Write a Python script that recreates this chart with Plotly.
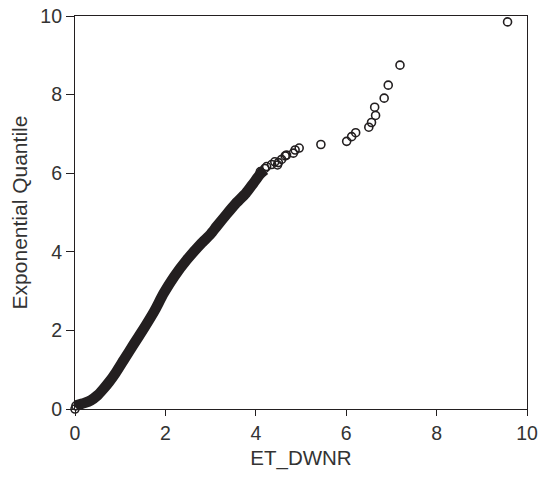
import plotly.graph_objects as go

# Dense body of the exponential Q-Q plot: centreline of the packed points
body_x = [0.00, 0.05, 0.20, 0.35, 0.50, 0.62, 0.75, 0.90, 1.08, 1.30, 1.55, 1.76,
          1.96, 2.20, 2.47, 2.80, 3.00, 3.13, 3.35, 3.55, 3.78, 3.95, 4.10, 4.20]
body_y = [0.05, 0.10, 0.15, 0.22, 0.35, 0.50, 0.68, 0.92, 1.25, 1.65, 2.10, 2.50,
          2.94, 3.38, 3.79, 4.22, 4.45, 4.64, 4.95, 5.22, 5.49, 5.75, 5.98, 6.08]

# Individually visible observations (upper tail and origin)
pts_x = [0.00, 0.02, 4.10, 4.20, 4.24, 4.35, 4.42, 4.48, 4.50, 4.57, 4.65, 4.68,
         4.83, 4.87, 4.96, 5.44, 6.01, 6.12, 6.21, 6.50, 6.56, 6.65, 6.63,
         6.84, 6.93, 7.19, 9.57]
pts_y = [0.00, 0.08, 6.04, 6.12, 6.17, 6.22, 6.29, 6.21, 6.27, 6.35, 6.44, 6.46,
         6.51, 6.59, 6.64, 6.73, 6.81, 6.93, 7.03, 7.17, 7.29, 7.47, 7.68,
         7.91, 8.24, 8.75, 9.85]

x_ticks = [0, 2, 4, 6, 8, 10]
y_ticks = [0, 2, 4, 6, 8, 10]

ink = "#231f20"
font_family = "Liberation Sans, Arial, sans-serif"

fig = go.Figure()
fig.add_trace(go.Scatter(
    x=body_x, y=body_y, mode="lines",
    line=dict(color=ink, width=10.5, shape="spline", smoothing=0.5),
    cliponaxis=False, hoverinfo="skip", showlegend=False,
))
fig.add_trace(go.Scatter(
    x=pts_x, y=pts_y, mode="markers",
    marker=dict(symbol="circle-open", size=8, color=ink, line=dict(width=1.6, color=ink)),
    cliponaxis=False, showlegend=False,
))

axis_common = dict(
    showline=True, linecolor=ink, linewidth=1.2, mirror=True,
    ticks="outside", tickwidth=1.2, tickcolor=ink,
    showgrid=False, zeroline=False, automargin=False,
    tickfont=dict(family=font_family, size=19.5, color="#333333"),
)

fig.update_layout(
    width=541, height=478,
    margin=dict(l=75, r=14, t=16, b=69),
    paper_bgcolor="white", plot_bgcolor="white",
    xaxis=dict(range=[0, 10], tickvals=x_ticks, ticklen=6,
               title=dict(text="ET_DWNR", standoff=8,
                          font=dict(family=font_family, size=20.5, color="#333333")),
               **axis_common),
    yaxis=dict(range=[0, 10], tickvals=y_ticks, ticklen=8,
               title=dict(text="Exponential Quantile", standoff=6,
                          font=dict(family=font_family, size=21, color="#333333")),
               **axis_common),
)

fig.write_html("out.html")
